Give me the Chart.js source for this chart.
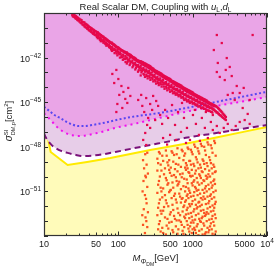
<!DOCTYPE html>
<html><head><meta charset="utf-8">
<script src="https://cdn.jsdelivr.net/npm/chart.js@4.4.1/dist/chart.umd.min.js"></script>
<style>html,body{margin:0;padding:0;background:#fff;}canvas{display:block;}</style>
</head><body>
<canvas id="c" width="274" height="268"></canvas>
<script>
// ---- tick values / labels ----
const xTickValues = [10, 50, 100, 500, 1000, 5000, 10000];
const xTickLabels = ['10', '50', '100', '500', '1000', '5000', '10^4'];
const yTickExponents = [-42, -45, -48, -51];

// ---- limit curves: mass [GeV], log10(sigma [cm^2]) ----
const blueMass = [10,12,14,17,20,24,29,36,45,55,70,90,130,200,365,800,2000,5000,10000];
const blueLogSigma = [-45.3,-45.62,-45.88,-46.1,-46.32,-46.5,-46.6,-46.6,-46.53,-46.45,-46.35,-46.22,-46.05,-45.9,-45.72,-45.4,-45.0,-44.6,-44.3];
const magentaMass = [10,10.5,12.3,14.5,16.7,20,24,28,35,52,70,91,150,330,800,2000,5000,10000];
const magentaLogSigma = [-45.75,-45.86,-46.2,-46.6,-46.87,-47.1,-47.22,-47.27,-47.25,-47.07,-46.9,-46.73,-46.5,-46.1,-45.65,-45.27,-44.93,-44.65];
const purpleMass = [10,10.5,12,13.5,16,20.8,27,34,54,91,150,270,500,850,2000,5000,10000];
const purpleLogSigma = [-47.1,-47.34,-47.75,-48.0,-48.22,-48.41,-48.55,-48.62,-48.55,-48.35,-48.13,-47.88,-47.62,-47.38,-47.09,-46.77,-46.53];
const yellowMass = [10,11.2,12.3,20.8,38,78,268,800,2000,5000,10000];
const yellowLogSigma = [-46.1,-47.34,-48.35,-49.22,-49.02,-48.75,-48.21,-47.8,-47.39,-46.98,-46.67];

// ---- scan points: [mass GeV, log10 sigma] ----
const bandPoints = [
[24,-39.0],[24,-39.15],[25,-39.12],[25,-39.25],[26,-39.18],[26,-39.3],[27,-39.22],[27,-39.38],[28,-39.3],[28,-39.45],[29,-39.36],[29,-39.5],[30,-39.4],[30,-39.58],[32,-39.48],[32,-39.7],[33,-39.6],[33,-39.78],[35,-39.64],[35,-39.9],[36,-39.72],[36,-39.95],[38,-39.8],[38,-40.05],[40,-39.9],[40,-40.15],[42,-39.98],[42,-40.22],[44,-40.05],[44,-40.3],[46,-40.12],[46,-40.4],[48,-40.2],[48,-40.45],[50,-40.25],[50,-40.5],
[53,-40.3],[53,-40.55],[53,-40.7],[55,-40.4],[55,-40.68],[58,-40.48],[58,-40.72],[58,-40.9],[60,-40.55],[60,-40.85],[63,-40.6],[63,-40.82],[63,-41.0],[66,-40.7],[66,-41.05],[69,-40.78],[69,-41.0],[69,-41.2],[72,-40.85],[72,-41.15],[75,-40.9],[75,-41.12],[75,-41.3],[78,-41.0],[78,-41.35],
[82,-41.0],[82,-41.3],[82,-41.55],[85,-41.1],[85,-41.45],[89,-41.15],[89,-41.4],[89,-41.7],[93,-41.25],[93,-41.6],[97,-41.3],[97,-41.5],[97,-41.85],[101,-41.35],[101,-41.7],[105,-41.42],[105,-41.65],[105,-42.0],[110,-41.5],[110,-41.9],[115,-41.55],[115,-41.8],[115,-42.15],[120,-41.6],[120,-42.05],[125,-41.65],[125,-41.9],[125,-42.3],
[130,-41.65],[130,-42.0],[130,-42.4],[136,-41.75],[136,-42.2],[142,-41.8],[142,-42.05],[142,-42.5],[148,-41.85],[148,-42.3],[155,-41.95],[155,-42.2],[155,-42.65],[162,-42.0],[162,-42.45],[169,-42.05],[169,-42.35],[169,-42.8],[176,-42.15],[176,-42.6],[184,-42.2],[184,-42.5],[184,-42.95],[192,-42.25],[192,-42.7],
[200,-42.25],[200,-42.55],[200,-42.85],[200,-43.2],[209,-42.3],[209,-42.9],[218,-42.35],[218,-42.7],[218,-43.1],[228,-42.4],[228,-42.95],[228,-43.3],[238,-42.45],[238,-42.8],[238,-43.15],[248,-42.5],[248,-43.0],[248,-43.4],[260,-42.55],[260,-42.9],[260,-43.25],[270,-42.6],[270,-43.1],[270,-43.5],[282,-42.7],[282,-43.0],[282,-43.35],[295,-42.75],[295,-43.25],[295,-43.6],[308,-42.85],[308,-43.15],[308,-43.5],[322,-42.9],[322,-43.4],[322,-43.75],[336,-42.95],[336,-43.3],[336,-43.6],[350,-43.0],[350,-43.5],[350,-43.85],[366,-43.05],[366,-43.4],[366,-43.7],[382,-43.1],[382,-43.6],[382,-43.95],
[400,-43.2],[400,-43.5],[400,-43.8],[418,-43.25],[418,-43.75],[418,-44.1],[436,-43.3],[436,-43.65],[436,-43.95],[455,-43.35],[455,-43.85],[455,-44.2],[475,-43.4],[475,-43.75],[475,-44.05],[497,-43.45],[497,-43.95],[497,-44.3],[520,-43.55],[520,-43.85],[520,-44.2],[543,-43.6],[543,-44.05],[543,-44.4],[567,-43.65],[567,-43.95],[567,-44.3],[592,-43.7],[592,-44.15],[592,-44.5],[618,-43.75],[618,-44.1],[618,-44.4],[646,-43.8],[646,-44.25],[646,-44.6],[675,-43.85],[675,-44.2],[675,-44.5],[705,-43.9],[705,-44.35],[705,-44.7],[737,-44.0],[737,-44.3],[737,-44.65],[770,-44.05],[770,-44.5],[770,-44.85],
[804,-44.1],[804,-44.45],[804,-44.75],[840,-44.15],[840,-44.6],[840,-44.95],[877,-44.2],[877,-44.55],[877,-44.85],[916,-44.25],[916,-44.7],[916,-45.05],[957,-44.3],[957,-44.65],[957,-44.95],[1000,-44.35],[1000,-44.8],[1000,-45.1],[1045,-44.45],[1045,-44.75],[1045,-45.05],[1092,-44.5],[1092,-44.9],[1092,-45.2],[1141,-44.55],[1141,-44.85],[1141,-45.15],[1192,-44.6],[1192,-45.0],[1192,-45.3],[1245,-44.65],[1245,-44.95],[1245,-45.25],[1300,-44.7],[1300,-45.1],[1300,-45.4],[1358,-44.75],[1358,-45.05],[1358,-45.35],[1419,-44.8],[1419,-45.2],[1419,-45.45],[1482,-44.85],[1482,-45.15],[1482,-45.45],[1548,-44.9],[1548,-45.3],[1548,-45.55],
[1617,-45.0],[1617,-45.25],[1617,-45.55],[1690,-45.05],[1690,-45.4],[1690,-45.6],[1765,-45.1],[1765,-45.35],[1765,-45.65],[1844,-45.15],[1844,-45.45],[1844,-45.7],[1926,-45.2],[1926,-45.5],[2012,-45.25],[2012,-45.6],[2100,-45.3],[2100,-45.7],[2200,-45.4],[2200,-45.75],[2300,-45.5],[2300,-45.85],[2400,-45.6],[2400,-45.9],[2500,-45.7],[2500,-46.0],[2650,-45.85],[2650,-46.1],[2800,-46.0],[2800,-46.2]
];
const bandPointsMid = [
[24.5,-39.08],[24.5,-39.22],[25.5,-39.15],[26.5,-39.2],[26.5,-39.35],[27.5,-39.28],[28.5,-39.33],[28.5,-39.48],[29.5,-39.42],[31,-39.45],[31,-39.65],[34,-39.62],[34,-39.82],[37,-39.76],[37,-39.98],[39,-39.85],[39,-40.08],[41,-39.95],[41,-40.18],[43,-40.02],[43,-40.26],[45,-40.1],[45,-40.35],[47,-40.16],[47,-40.42],[49,-40.22],[49,-40.48],
[51.5,-40.28],[51.5,-40.52],[51.5,-40.62],[54,-40.36],[54,-40.6],[56.5,-40.45],[56.5,-40.65],[56.5,-40.8],[59,-40.52],[59,-40.78],[61.5,-40.58],[61.5,-40.9],[64.5,-40.66],[64.5,-40.9],[67.5,-40.72],[67.5,-40.98],[67.5,-41.1],[70.5,-40.8],[70.5,-41.08],[73.5,-40.88],[73.5,-41.2],[76.5,-40.95],[76.5,-41.22],
[80,-41.0],[80,-41.28],[80,-41.45],[83.5,-41.05],[83.5,-41.38],[87,-41.12],[87,-41.5],[91,-41.2],[91,-41.48],[95,-41.28],[95,-41.72],[99,-41.32],[99,-41.6],[103,-41.4],[103,-41.78],[107.5,-41.45],[107.5,-41.75],[112.5,-41.52],[112.5,-41.98],[117.5,-41.58],[117.5,-41.88],[122.5,-41.62],[122.5,-42.1],[127.5,-41.68],[127.5,-42.05],
[133,-41.72],[133,-42.12],[133,-42.3],[139,-41.78],[139,-42.18],[145,-41.82],[145,-42.25],[145,-42.4],[151.5,-41.9],[151.5,-42.3],[158.5,-41.98],[158.5,-42.38],[158.5,-42.55],[165.5,-42.02],[165.5,-42.42],[172.5,-42.1],[172.5,-42.5],[172.5,-42.7],[180,-42.18],[180,-42.58],[188,-42.22],[188,-42.62],[188,-42.85],[196,-42.25],[196,-42.65],
[204.5,-42.28],[204.5,-42.72],[204.5,-43.0],[213.5,-42.32],[213.5,-42.8],[223,-42.38],[223,-42.82],[223,-43.15],[233,-42.42],[233,-42.88],[243,-42.48],[243,-42.92],[243,-43.25],[254,-42.52],[254,-43.05],[265,-42.58],[265,-43.05],[265,-43.35],[276,-42.65],[276,-43.15],[288.5,-42.72],[288.5,-43.18],[288.5,-43.45],[301.5,-42.8],[301.5,-43.28],[315,-42.88],[315,-43.32],[315,-43.6],[329,-42.92],[329,-43.42],[343,-42.98],[343,-43.45],[343,-43.7],[358,-43.02],[358,-43.52],[374,-43.08],[374,-43.55],[374,-43.8],[391,-43.15],[391,-43.65],
[409,-43.22],[409,-43.68],[409,-43.95],[427,-43.28],[427,-43.75],[445.5,-43.32],[445.5,-43.78],[445.5,-44.05],[465,-43.38],[465,-43.85],[486,-43.42],[486,-43.9],[486,-44.15],[508.5,-43.5],[508.5,-43.98],[531.5,-43.58],[531.5,-44.0],[531.5,-44.25],[555,-43.62],[555,-44.1],[579.5,-43.68],[579.5,-44.12],[579.5,-44.4],[605,-43.72],[605,-44.2],[632,-43.78],[632,-44.22],[632,-44.5],[660.5,-43.82],[660.5,-44.3],[690,-43.88],[690,-44.35],[690,-44.6],[721,-43.95],[721,-44.42],[753.5,-44.02],[753.5,-44.45],[753.5,-44.75],[787,-44.08],[787,-44.52],
[822,-44.12],[822,-44.55],[822,-44.85],[858.5,-44.18],[858.5,-44.62],[896.5,-44.22],[896.5,-44.65],[896.5,-44.95],[936.5,-44.28],[936.5,-44.72],[978.5,-44.32],[978.5,-44.75],[978.5,-45.0],[1022,-44.4],[1022,-44.82],[1068,-44.48],[1068,-44.85],[1068,-45.12],[1116,-44.52],[1116,-44.92],[1166,-44.58],[1166,-44.95],[1166,-45.22],[1218,-44.62],[1218,-45.02],[1272,-44.68],[1272,-45.05],[1272,-45.3],[1329,-44.72],[1329,-45.1],[1388,-44.78],[1388,-45.12],[1388,-45.38],[1450,-44.82],[1450,-45.2],[1515,-44.88],[1515,-45.22],[1515,-45.5],[1582,-44.95],[1582,-45.3],
[1653,-45.02],[1653,-45.32],[1653,-45.58],[1727,-45.08],[1727,-45.38],[1804,-45.12],[1804,-45.4],[1804,-45.65],[1885,-45.18],[1885,-45.48],[1969,-45.22],[1969,-45.52],[2056,-45.28],[2056,-45.62],[2150,-45.35],[2150,-45.68],[2250,-45.45],[2250,-45.8],[2350,-45.55],[2350,-45.88],[2450,-45.65],[2450,-45.95],[2575,-45.78],[2575,-46.05],[2725,-45.92],[2725,-46.15]
];
const bandPointsCore = [
[25.5,-39.21],[27.5,-39.34],[29.5,-39.46],[32.5,-39.62],[35.5,-39.78],[39,-39.95],[43,-40.13],[47,-40.29],[51,-40.42],
[53,-40.35],[55.5,-40.43],[58,-40.5],[60.5,-40.58],[63,-40.65],[66,-40.72],[69,-40.8],[72,-40.86],[75,-40.93],[78.5,-41.0],[82,-41.07],[85.5,-41.13],[89,-41.2],[93,-41.27],[97,-41.33],[101,-41.39],[105,-41.45],[110,-41.52],[115,-41.58],[120,-41.64],[125,-41.7],[130.5,-41.77],[136,-41.83],[142,-41.9],[148,-41.95],[155,-42.03],[162,-42.1],[169,-42.16],[176,-42.22],[184,-42.28],[192,-42.33],[200,-42.39],[209,-42.45],[218,-42.5],[228,-42.55],[238,-42.6],[248,-42.65],[259,-42.71],[270,-42.76],[282,-42.83],[295,-42.9],[308,-42.97],[322,-43.03],[336,-43.09],[350,-43.14],[366,-43.2],[382,-43.26],[400,-43.32],[418,-43.37],[436,-43.43],[455,-43.48],[475,-43.54],[497,-43.6],[520,-43.66],[543,-43.72],[567,-43.78],[592,-43.84],[618,-43.9],[646,-43.95],[675,-44.0],[705,-44.06],[737,-44.12],[770,-44.18],[804,-44.24],[840,-44.3],[877,-44.35],[916,-44.4],[957,-44.45],[1000,-44.5],[1045,-44.55],[1092,-44.6],[1141,-44.66],[1192,-44.72],[1245,-44.77],[1300,-44.82],[1358,-44.87],[1419,-44.92],[1482,-44.97],[1548,-45.02],[1617,-45.08],[1690,-45.13],[1765,-45.17],[1844,-45.22],[1926,-45.27]
];
const offBandPoints = [
[83,-43.10],[94,-42.83],[100,-43.44],[110,-43.91],[88,-43.71],[117,-44.31],[103,-44.51],[124,-44.78],[97,-45.12],[113,-45.39],[132,-45.05],[94,-45.66],[145,-44.58],[136,-44.04],
[185,-44.85],[210,-45.25],[237,-44.72],[268,-45.12],[223,-45.66],[252,-46.06],[203,-44.51],[294,-44.58],[323,-44.92],[285,-45.52],[343,-45.25],[244,-46.53],[230,-47.07],[216,-47.54],[237,-47.88],[268,-46.73],[313,-46.20],[365,-45.86],[388,-46.46],
[426,-45.52],[467,-46.06],[528,-45.19],[579,-46.53],[635,-45.66],[697,-47.00],[764,-46.06],[838,-46.73],[920,-47.54],[1009,-45.86],[1106,-46.46],[1213,-47.20],[1330,-46.06],[1459,-46.73],[1600,-47.41],[1757,-46.33],[1867,-46.87],[497,-47.20],[597,-47.54],[813,-47.74],[1072,-45.52],[1251,-47.6],[400,-47.41],[453,-47.85],[719,-45.05],[1505,-45.66],[1867,-45.86],
[2113,-46.60],[2317,-47.07],[2620,-46.73],[2966,-46.46],[3355,-46.87],[3797,-46.60],[4295,-46.33],[5010,-46.20],[5850,-46.46],[5500,-45.79],[4710,-45.39],
[2113,-40.48],[2464,-41.02],[2875,-42.03],[2178,-42.36],[3154,-42.63],[2113,-42.97],[2317,-43.30],[6410,-40.48],[3916,-43.91],[3461,-44.38],[4295,-44.38],[2702,-43.51],[1926,-41.49],[2787,-42.83],[3355,-43.24],[4860,-44.04],[5850,-44.85],[3681,-44.85],[2966,-44.51]
];
const lowPoints = [
[352,-48.35],[436,-48.25],[535,-48.4],[625,-48.1],[732,-48.3],[855,-48.05],[948,-48.2],[1050,-47.85],[1165,-48.1],[1290,-47.8],[1430,-48.0],[1585,-47.7],[1760,-47.9],[1950,-47.6],[230,-48.5],[245,-48.4],
[335,-48.8],[390,-48.6],[483,-48.9],[562,-48.55],[660,-48.75],[770,-48.6],[900,-48.95],[998,-48.5],[1105,-48.7],[1225,-48.45],[1360,-48.85],[1505,-48.55],[1670,-48.7],[1850,-48.4],[2040,-48.6],[215,-48.9],
[371,-49.2],[458,-49.05],[508,-49.4],[594,-49.15],[695,-49.35],[812,-49.1],[855,-49.45],[948,-49.2],[1050,-49.3],[1165,-49.05],[1290,-49.4],[1430,-49.15],[1585,-49.3],[1760,-49.1],[1950,-49.35],[240,-49.2],[222,-49.45],
[335,-49.6],[412,-49.85],[483,-49.55],[562,-49.9],[625,-49.65],[732,-49.8],[812,-49.55],[900,-49.75],[998,-49.95],[1105,-49.6],[1225,-49.85],[1360,-49.7],[1505,-49.95],[1670,-49.6],[1850,-49.8],[2040,-49.65],[250,-49.8],
[352,-50.3],[436,-50.1],[535,-50.4],[594,-50.05],[660,-50.35],[770,-50.15],[855,-50.45],[948,-50.0],[1050,-50.25],[1165,-50.4],[1290,-50.1],[1430,-50.3],[1585,-50.05],[1760,-50.4],[1950,-50.2],[218,-50.3],[235,-50.05],
[371,-50.75],[458,-50.55],[508,-50.9],[625,-50.6],[695,-50.85],[812,-50.7],[900,-50.95],[998,-50.6],[1105,-50.8],[1225,-50.55],[1360,-50.9],[1505,-50.65],[1670,-50.85],[1850,-50.6],[2040,-50.95],[245,-50.7],
[335,-51.1],[390,-51.4],[483,-51.05],[562,-51.3],[660,-51.15],[732,-51.45],[855,-51.2],[948,-51.35],[1050,-51.05],[1165,-51.25],[1290,-51.45],[1430,-51.1],[1585,-51.35],[1760,-51.2],[1950,-51.4],[228,-51.25],[212,-51.0],
[352,-51.8],[436,-51.6],[535,-51.9],[594,-51.55],[695,-51.75],[770,-51.95],[812,-51.6],[900,-51.85],[998,-51.65],[1105,-51.9],[1225,-51.7],[1360,-51.55],[1505,-51.85],[1670,-51.65],[1850,-51.95],[2040,-51.7],[240,-51.8],
[371,-52.3],[412,-52.05],[508,-52.4],[625,-52.15],[732,-52.35],[855,-52.1],[948,-52.45],[1050,-52.2],[1165,-52.05],[1290,-52.3],[1430,-52.45],[1585,-52.15],[1760,-52.35],[1950,-52.1],[220,-52.2],[250,-52.4],
[335,-52.6],[458,-52.85],[562,-52.65],[660,-52.95],[770,-52.7],[812,-52.55],[900,-52.8],[998,-52.95],[1105,-52.6],[1225,-52.85],[1360,-52.7],[1505,-52.55],[1670,-52.9],[1850,-52.65],[2040,-52.8],[232,-52.75],
[352,-53.2],[390,-53.45],[483,-53.1],[594,-53.35],[695,-53.05],[770,-53.4],[855,-53.25],[948,-53.1],[1050,-53.45],[1165,-53.2],[1290,-53.05],[1430,-53.3],[1585,-53.45],[1760,-53.15],[1950,-53.3],[215,-53.25],[245,-53.4],
[371,-53.7],[436,-53.9],[535,-53.6],[625,-53.85],[732,-53.65],[812,-53.95],[900,-53.7],[998,-53.55],[1105,-53.8],[1225,-53.65],[1360,-53.9],[1505,-53.75],[1670,-53.6],[1850,-53.85],[2040,-53.7],[228,-53.8]
];
const lowPointsB = [
[362,-48.45],[447,-48.6],[521,-48.3],[609,-48.5],[713,-48.2],[791,-48.45],[877,-48.15],[973,-48.35],[1078,-48.0],[1195,-48.3],[1325,-47.95],[1468,-48.25],[1627,-47.85],[1804,-48.1],[1995,-47.75],
[343,-49.1],[401,-48.95],[470,-49.25],[548,-49.0],[642,-49.2],[751,-48.9],[833,-49.25],[924,-48.95],[1025,-49.15],[1135,-48.85],[1258,-49.2],[1395,-48.95],[1545,-49.1],[1713,-48.9],[1899,-49.2],
[380,-49.6],[424,-49.45],[495,-49.75],[578,-49.5],[677,-49.85],[791,-49.4],[877,-49.7],[973,-49.55],[1078,-49.8],[1195,-49.45],[1325,-49.65],[1468,-49.5],[1627,-49.85],[1804,-49.45],[1995,-49.7],
[362,-50.0],[447,-50.25],[521,-49.95],[609,-50.3],[713,-50.05],[833,-50.2],[924,-49.95],[1025,-50.35],[1135,-50.1],[1258,-49.95],[1395,-50.25],[1545,-50.15],[1713,-50.0],[1899,-50.3],[231,-49.95],
[343,-50.55],[401,-50.8],[470,-50.45],[548,-50.75],[642,-50.5],[751,-50.65],[877,-50.8],[973,-50.45],[1078,-50.7],[1195,-50.9],[1325,-50.45],[1468,-50.8],[1627,-50.55],[1804,-50.75],[1995,-50.5],
[380,-51.0],[424,-51.25],[495,-50.95],[578,-51.15],[677,-51.35],[791,-51.0],[833,-51.3],[924,-51.1],[1025,-51.3],[1135,-50.95],[1258,-51.15],[1395,-51.35],[1545,-51.0],[1713,-51.3],[1899,-51.05],
[362,-51.55],[447,-51.8],[521,-51.45],[609,-51.75],[713,-51.5],[791,-51.7],[877,-51.45],[973,-51.85],[1078,-51.55],[1195,-51.75],[1325,-51.9],[1468,-51.5],[1627,-51.8],[1804,-51.5],[1995,-51.85],[236,-51.5],
[343,-52.1],[401,-52.3],[470,-52.0],[548,-52.25],[642,-52.45],[751,-52.05],[833,-52.25],[924,-52.0],[1025,-52.35],[1135,-52.15],[1258,-52.0],[1395,-52.25],[1545,-52.4],[1713,-52.05],[1899,-52.3],
[380,-52.5],[424,-52.75],[495,-52.55],[578,-52.85],[677,-52.6],[791,-52.8],[877,-52.5],[973,-52.7],[1078,-52.9],[1195,-52.5],[1325,-52.8],[1468,-52.65],[1627,-52.5],[1804,-52.85],[1995,-52.55],[210,-52.6],
[362,-53.0],[447,-53.3],[521,-53.05],[609,-52.95],[713,-53.25],[833,-53.0],[924,-53.35],[1025,-53.1],[1135,-53.35],[1258,-53.0],[1395,-53.15],[1545,-53.0],[1713,-53.35],[1899,-53.05],[238,-53.0],
[343,-53.55],[401,-53.8],[470,-53.5],[548,-53.75],[642,-53.55],[751,-53.85],[877,-53.5],[973,-53.8],[1078,-53.6],[1195,-53.95],[1325,-53.55],[1468,-53.85],[1627,-53.75],[1804,-53.55],[1995,-53.9]
];

// ---- helpers to build library data ----
const curve = (m, s) => m.map((v, i) => ({x: v, y: Math.pow(10, s[i])}));
const pts = p => p.map(([m, s]) => ({x: m, y: Math.pow(10, s)}));

const F = '"Liberation Sans", Arial, Helvetica, sans-serif';
function drawRich(ctx, segs, x, y, align) {
  let w = 0;
  for (const s of segs) { ctx.font = s.f; if (!s.na) w += ctx.measureText(s.t).width; }
  let cx = align === 'center' ? x - w / 2 : (align === 'right' ? x - w : x);
  for (const s of segs) {
    ctx.font = s.f;
    ctx.fillText(s.t, cx, y + (s.dy || 0));
    if (!s.na) cx += ctx.measureText(s.t).width;
  }
}

const decor = {
  id: 'decor',
  afterDraw(chart) {
    const ctx = chart.ctx, a = chart.chartArea, X = chart.scales.x, Y = chart.scales.y;
    ctx.save();
    ctx.strokeStyle = '#2a2a2a';
    ctx.lineWidth = 1;
    ctx.beginPath();
    for (let e = 1; e <= 4; e++) {
      for (let k = 1; k <= 9; k++) {
        const v = k * Math.pow(10, e);
        if (v > 10000) break;
        const px = Math.round(X.getPixelForValue(v)) + 0.5;
        const len = k === 1 ? 4.5 : (k === 5 ? 3.5 : 2.5);
        ctx.moveTo(px, a.bottom); ctx.lineTo(px, a.bottom - len);
        ctx.moveTo(px, a.top); ctx.lineTo(px, a.top + len);
      }
    }
    for (let e = -54; e <= -39; e++) {
      const py = Math.round(Y.getPixelForValue(Math.pow(10, e))) + 0.5;
      ctx.moveTo(a.left, py); ctx.lineTo(a.left + 4, py);
      ctx.moveTo(a.right, py); ctx.lineTo(a.right - 4, py);
    }
    ctx.stroke();
    ctx.strokeStyle = '#333';
    ctx.lineWidth = 1.2;
    ctx.strokeRect(a.left + 0.5, a.top + 0.5, a.right - a.left - 1, a.bottom - a.top - 1);

    ctx.fillStyle = '#1a1a1a';
    ctx.textBaseline = 'alphabetic';
    ctx.textAlign = 'left';
    const big = '9px ' + F, small = '6.5px ' + F;
    xTickValues.forEach((v, i) => {
      const px = X.getPixelForValue(v);
      const lab = xTickLabels[i];
      if (lab.indexOf('^') >= 0) {
        const [b, ex] = lab.split('^');
        drawRich(ctx, [{t: b, f: big}, {t: ex, f: small, dy: -4}], px, 247, 'center');
      } else {
        drawRich(ctx, [{t: lab, f: big}], px, 247, 'center');
      }
    });
    yTickExponents.forEach(e => {
      const py = Y.getPixelForValue(Math.pow(10, e));
      drawRich(ctx, [{t: '10', f: big}, {t: '\u2212' + Math.abs(e), f: small, dy: -4}], 41, py + 4, 'right');
    });
    const tf = '9.5px ' + F, ti = 'italic 9.5px ' + F, ts = '6.5px ' + F;
    drawRich(ctx, [
      {t: 'Real Scalar DM, Coupling with ', f: tf},
      {t: 'u', f: ti}, {t: 'L', f: ts, dy: 2},
      {t: ',', f: tf},
      {t: 'd', f: ti}, {t: 'L', f: ts, dy: 2}
    ], (a.left + a.right) / 2, 10, 'center');
    drawRich(ctx, [
      {t: 'M', f: 'italic 9.5px ' + F},
      {t: '\u03A6', f: 'italic 7px ' + F, dy: 2.5},
      {t: 'DM', f: '5px ' + F, dy: 4.5},
      {t: '[GeV]', f: '9.5px ' + F}
    ], (a.left + a.right) / 2, 261, 'center');
    ctx.save();
    ctx.translate(12, 121);
    ctx.rotate(-Math.PI / 2);
    drawRich(ctx, [
      {t: '\u03C3', f: 'italic 10px ' + F},
      {t: 'SI', f: '6px ' + F, dy: -4, na: true},
      {t: 'DM,p', f: '5.5px ' + F, dy: 3},
      {t: '[cm', f: '9.5px ' + F},
      {t: '2', f: '6px ' + F, dy: -4},
      {t: ']', f: '9.5px ' + F}
    ], 0, 0, 'center');
    ctx.restore();
    ctx.restore();
  }
};

const PINK = '#EAA5E7', LAV = '#E7CDE8', YEL = '#FFFBBA';
const RED = '#E6084C', ORANGE = '#FA5222';
const ptStyle = (data, color) => ({type: 'scatter', data: pts(data), pointStyle: 'rect', pointRadius: 1.6, pointBackgroundColor: color, backgroundColor: color, pointBorderWidth: 0, borderWidth: 0, order: 0});
new Chart(document.getElementById('c'), {
  type: 'scatter',
  data: {
    datasets: [
      ptStyle(lowPoints, ORANGE),
      ptStyle(lowPointsB, ORANGE),
      ptStyle(offBandPoints, RED),
      ptStyle(bandPoints, RED),
      ptStyle(bandPointsMid, RED),
      ptStyle(bandPointsCore, RED),
      {type: 'line', data: curve(blueMass, blueLogSigma), borderColor: '#5A46F0', borderWidth: 2, borderDash: [2, 2.3], pointRadius: 0, fill: false, cubicInterpolationMode: 'monotone', order: 1},
      {type: 'line', data: curve(magentaMass, magentaLogSigma), borderColor: '#F010EE', borderWidth: 2, borderDash: [2, 4], pointRadius: 0, fill: 'end', backgroundColor: PINK, cubicInterpolationMode: 'monotone', order: 2},
      {type: 'line', data: curve(purpleMass, purpleLogSigma), borderColor: '#7A127A', borderWidth: 2, borderDash: [6, 4], pointRadius: 0, fill: 'end', backgroundColor: LAV, cubicInterpolationMode: 'monotone', order: 3},
      {type: 'line', data: curve(yellowMass, yellowLogSigma), borderColor: '#FFEA00', borderWidth: 2, pointRadius: 0, fill: 'start', backgroundColor: YEL, tension: 0, order: 4}
    ]
  },
  options: {
    responsive: false,
    devicePixelRatio: 1,
    animation: false,
    events: [],
    layout: {padding: {left: 44, right: 7, top: 13, bottom: 32}},
    scales: {
      x: {type: 'logarithmic', min: 10, max: 10000, display: false},
      y: {type: 'logarithmic', min: 1e-54, max: 1e-39, display: false}
    },
    plugins: {legend: {display: false}, tooltip: {enabled: false}, title: {display: false}}
  },
  plugins: [decor]
});
</script>
</body></html>
